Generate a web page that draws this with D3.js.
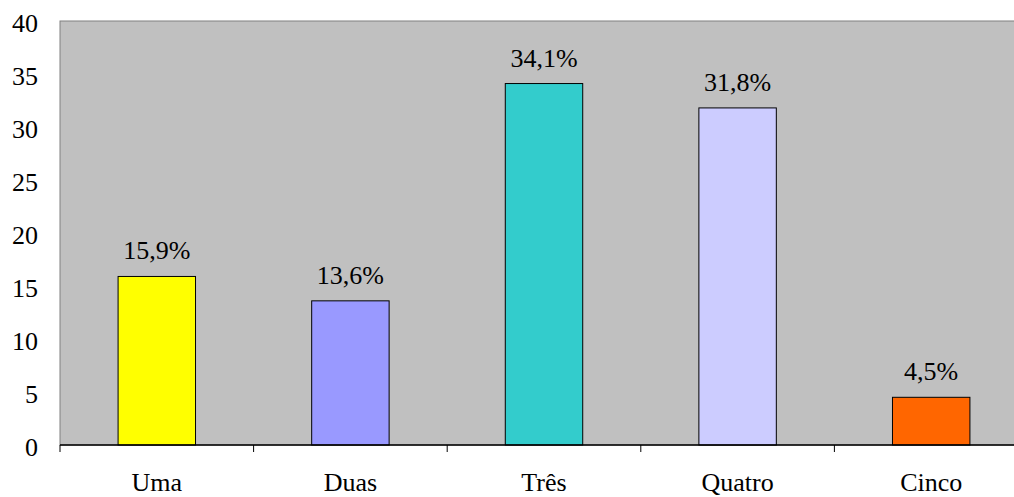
<!DOCTYPE html>
<html>
<head>
<meta charset="utf-8">
<script src="https://cdn.jsdelivr.net/npm/d3@7"></script>
<style>
  html, body { margin: 0; padding: 0; background: #fff; overflow: hidden; }
  svg text { font-family: "Liberation Serif", "DejaVu Serif", serif; }
</style>
</head>
<body>
<svg id="chart" width="1014" height="497"></svg>
<script>
const categories = ["Uma", "Duas", "Três", "Quatro", "Cinco"];
const values = [15.9, 13.6, 34.1, 31.8, 4.5];
const colors = ["#FFFF00", "#9999FF", "#33CCCC", "#CCCCFF", "#FF6600"];
const yTicks = [0, 5, 10, 15, 20, 25, 30, 35, 40];

const svg = d3.select("#chart").attr("font-size", 26);
const plotLeft = 60, plotTop = 21, plotRight = 1028, plotBottom = 445;

const x = d3.scaleBand().domain(categories).range([plotLeft, plotRight]);
const y = d3.scaleLinear().domain([0, 40]).range([plotBottom, plotTop]);

// plot area
svg.append("rect")
  .attr("x", plotLeft).attr("y", plotTop)
  .attr("width", plotRight - plotLeft).attr("height", plotBottom - plotTop)
  .attr("fill", "#C0C0C0")
  .attr("stroke", "#808080").attr("stroke-width", 1);

// y tick labels
svg.append("g").selectAll("text").data(yTicks).join("text")
  .attr("x", 38).attr("y", d => y(d) + 10.5)
  .attr("text-anchor", "end")
  .attr("fill", "#000")
  .text(d => d);

// bars
const bw = x.bandwidth() * 0.4;
svg.append("g").selectAll("rect").data(values).join("rect")
  .attr("x", (d, i) => x(categories[i]) + x.bandwidth() / 2 - bw / 2)
  .attr("y", d => y(d))
  .attr("width", bw)
  .attr("height", d => plotBottom - y(d))
  .attr("fill", (d, i) => colors[i])
  .attr("stroke", "#000").attr("stroke-width", 1);

// value labels
svg.append("g").selectAll("text").data(values).join("text")
  .attr("x", (d, i) => x(categories[i]) + x.bandwidth() / 2)
  .attr("y", d => y(d) - 17)
  .attr("text-anchor", "middle")
  .attr("fill", "#000")
  .text(d => d.toFixed(1).replace(".", ",") + "%");

// x axis
const gx = svg.append("g").attr("transform", `translate(0,${plotBottom})`);
gx.append("line").attr("x1", plotLeft).attr("x2", plotRight).attr("y1", 0).attr("y2", 0)
  .attr("stroke", "#000").attr("stroke-width", 1.5);
// boundary ticks between categories
const bounds = categories.map(c => x(c)).concat([plotRight]);
gx.selectAll("line.tk").data(bounds).join("line").attr("class", "tk")
  .attr("x1", d => d).attr("x2", d => d).attr("y1", 0).attr("y2", 7)
  .attr("stroke", "#000").attr("stroke-width", 1);
gx.selectAll("text.lbl").data(categories).join("text").attr("class", "lbl")
  .attr("x", d => x(d) + x.bandwidth() / 2)
  .attr("y", 45.5)
  .attr("text-anchor", "middle")
  .attr("fill", "#000")
  .text(d => d);
</script>
</body>
</html>
